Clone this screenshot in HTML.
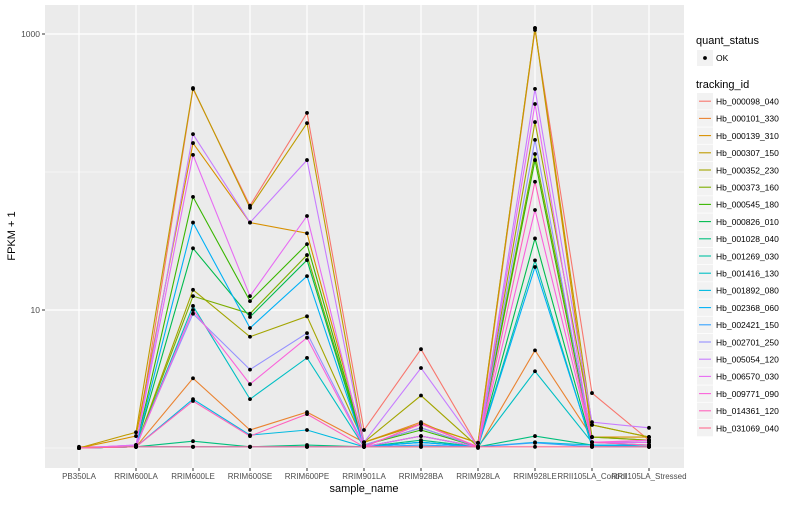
<!DOCTYPE html>
<html><head><meta charset="utf-8"><style>
body{margin:0;background:#fff;font-family:"Liberation Sans",sans-serif}
svg text{font-family:"Liberation Sans",sans-serif}
</style></head><body>
<svg id="c" width="800" height="500" xmlns="http://www.w3.org/2000/svg"></svg>
<script>
const samples=["PB350LA","RRIM600LA","RRIM600LE","RRIM600SE","RRIM600PE","RRIM901LA","RRIM928BA","RRIM928LA","RRIM928LE","RRII105LA_Control","RRII105LA_Stressed"];
const ids=["Hb_000098_040","Hb_000101_330","Hb_000139_310","Hb_000307_150","Hb_000352_230","Hb_000373_160","Hb_000545_180","Hb_000826_010","Hb_001028_040","Hb_001269_030","Hb_001416_130","Hb_001892_080","Hb_002368_060","Hb_002421_150","Hb_002701_250","Hb_005054_120","Hb_006570_030","Hb_009771_090","Hb_014361_120","Hb_031069_040"];
const colors=["#F8766D","#EA8331","#D89000","#C09B00","#A3A500","#7CAE00","#39B600","#00BB4E","#00BF7D","#00C1A3","#00BFC4","#00BAE0","#00B0F6","#35A2FF","#9590FF","#C77CFF","#E76BF3","#FA62DB","#FF62BC","#FF6C91"];
const s0=[1.02,1.02,400,57,268,1.35,5.2,1.02,1069,2.5,1.14];
const s1=[1,1.02,3.2,1.35,1.82,1.1,1.54,1,5.1,1.2,1.14];
const s2=[1,1.22,162,43,36,1.1,1.5,1.09,1105,1.2,1.2];
const s3=[1,1.3,406,55,226,1.1,1.49,1.09,1105,1.47,1.2];
const s4=[1,1.02,14,6.4,9.0,1.1,2.4,1.02,230,1.47,1.2];
const s5=[1,1.02,12.6,9.4,25,1.05,1.4,1.02,135,1.2,1.14];
const s6=[1,1.02,66,11.6,30,1.05,1.35,1.02,122,1.1,1.1];
const s7=[1,1.02,28,8.9,23,1.02,1.22,1.02,33,1.05,1.05];
const s8=[1,1.02,1.12,1.02,1.05,1.02,1.14,1.02,1.22,1.05,1.02];
const s9=[1,1.02,1.02,1.02,1.02,1.02,1.02,1.02,22.9,1.02,1.02];
const s10=[1,1.02,10.7,2.26,4.5,1.02,1.1,1.02,3.6,1.1,1.05];
const s11=[1,1.02,2.26,1.24,1.35,1.02,1.1,1.02,1.1,1.05,1.02];
const s12=[1,1.02,43,7.4,17.6,1.02,1.1,1.02,20.5,1.05,1.05];
const s13=[1,1.02,1.02,1.02,1.02,1.02,1.05,1.02,1.09,1.02,1.02];
const s14=[1,1.05,9.4,3.7,6.8,1.05,1.4,1.02,171,1.1,1.1];
const s15=[1,1.05,188,43,122,1.1,3.8,1.02,400,1.54,1.4];
const s16=[1,1.05,133,12.6,48,1.02,1.22,1.02,311,1.1,1.1];
const s17=[1,1.02,10,2.9,6.3,1.02,1.5,1.02,53,1.1,1.14];
const s18=[1,1.02,2.19,1.22,1.76,1.02,1.49,1.02,85,1.1,1.05];
const s19=[1,1.02,1.02,1.02,1.02,1.02,1.02,1.02,1.02,1.02,1.02];
const series=[s0,s1,s2,s3,s4,s5,s6,s7,s8,s9,s10,s11,s12,s13,s14,s15,s16,s17,s18,s19];
const yTicks=[10,1000];
const yMinor=[1,100];

const svg=document.getElementById('c');const NS="http://www.w3.org/2000/svg";
function mk(t,a,p){const e=document.createElementNS(NS,t);for(const k in a)e.setAttribute(k,a[k]);(p||svg).appendChild(e);return e;}
const PL=45,PR=684,PT=5,PB=468;
const x=i=>79+i*57;
const y=v=>448-138*Math.log10(v);
const panel=mk('rect',{x:PL,y:PT,width:PR-PL,height:PB-PT,fill:'#EBEBEB'});


yMinor.forEach(v=>{const l=mk('line',{x1:PL,x2:PR,y1:y(v),y2:y(v),stroke:'#fff','stroke-width':0.6});

});
yTicks.forEach(v=>{const l=mk('line',{x1:PL,x2:PR,y1:y(v),y2:y(v),stroke:'#fff','stroke-width':1.2});


const tk=mk('line',{x1:PL-3,x2:PL,y1:y(v),y2:y(v),stroke:'#333','stroke-width':1});


const t=mk('text',{x:PL-5,y:y(v)+3,'font-size':8.5,fill:'#4D4D4D','text-anchor':'end'});t.textContent=v;

});
samples.forEach((s,i)=>{const l=mk('line',{x1:x(i),x2:x(i),y1:PT,y2:PB,stroke:'#fff','stroke-width':1.2});


const tk=mk('line',{x1:x(i),x2:x(i),y1:PB,y2:PB+3,stroke:'#333'});


const t=mk('text',{x:x(i),y:PB+11,'font-size':8,fill:'#4D4D4D','text-anchor':'middle'});t.textContent=s;

});
series.forEach((d,k)=>{const p=mk('polyline',{points:d.map((v,i)=>x(i)+','+y(v)).join(' '),fill:'none',stroke:colors[k],'stroke-width':1.1});

});
series.forEach((d,k)=>d.forEach((v,i)=>{const c=mk('circle',{cx:x(i),cy:y(v),r:1.9,fill:'#000'});

}));
let t=mk('text',{x:364,y:492,'font-size':11,fill:'#000','text-anchor':'middle'});t.textContent='sample_name';


t=mk('text',{x:15,y:236,'font-size':11,fill:'#000','text-anchor':'middle',transform:'rotate(-90 15 236)'});t.textContent='FPKM + 1';


t=mk('text',{x:696,y:44,'font-size':11,fill:'#000'});t.textContent='quant_status';


let kb=mk('rect',{x:697,y:50,width:16,height:16,fill:'#F2F2F2'});


mk('circle',{cx:705,cy:58,r:1.9,fill:'#000'});
t=mk('text',{x:716,y:61,'font-size':8.5,fill:'#000'});t.textContent='OK';


t=mk('text',{x:696,y:88,'font-size':11,fill:'#000'});t.textContent='tracking_id';


ids.forEach((id,k)=>{const yy=93+k*17.2;
const g=mk('g',{});


mk('rect',{x:697,y:yy,width:16,height:16.5,fill:'#F2F2F2'},g);
mk('line',{x1:699,x2:711,y1:yy+8.2,y2:yy+8.2,stroke:colors[k],'stroke-width':1.1},g);
const tt=mk('text',{x:716,y:yy+11.5,'font-size':8.5,fill:'#000'},g);tt.textContent=id;});
</script>
</body></html>
